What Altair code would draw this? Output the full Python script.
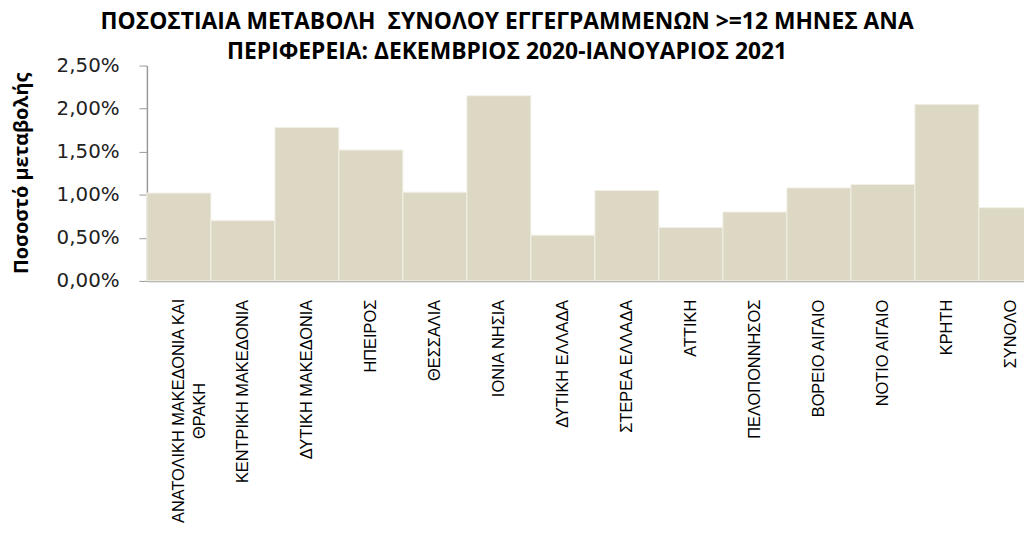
import altair as alt
import pandas as pd

regions = [
    "ΑΝΑΤΟΛΙΚΗ ΜΑΚΕΔΟΝΙΑ ΚΑΙ ΘΡΑΚΗ", "ΚΕΝΤΡΙΚΗ ΜΑΚΕΔΟΝΙΑ", "ΔΥΤΙΚΗ ΜΑΚΕΔΟΝΙΑ",
    "ΗΠΕΙΡΟΣ", "ΘΕΣΣΑΛΙΑ", "ΙΟΝΙΑ ΝΗΣΙΑ", "ΔΥΤΙΚΗ ΕΛΛΑΔΑ", "ΣΤΕΡΕΑ ΕΛΛΑΔΑ",
    "ΑΤΤΙΚΗ", "ΠΕΛΟΠΟΝΝΗΣΟΣ", "ΒΟΡΕΙΟ ΑΙΓΑΙΟ", "ΝΟΤΙΟ ΑΙΓΑΙΟ", "ΚΡΗΤΗ", "ΣΥΝΟΛΟ",
]
# wrapped category labels as shown under the axis
region_labels = [
    "ΑΝΑΤΟΛΙΚΗ ΜΑΚΕΔΟΝΙΑ ΚΑΙ\nΘΡΑΚΗ", "ΚΕΝΤΡΙΚΗ ΜΑΚΕΔΟΝΙΑ", "ΔΥΤΙΚΗ ΜΑΚΕΔΟΝΙΑ",
    "ΗΠΕΙΡΟΣ", "ΘΕΣΣΑΛΙΑ", "ΙΟΝΙΑ ΝΗΣΙΑ", "ΔΥΤΙΚΗ ΕΛΛΑΔΑ", "ΣΤΕΡΕΑ ΕΛΛΑΔΑ",
    "ΑΤΤΙΚΗ", "ΠΕΛΟΠΟΝΝΗΣΟΣ", "ΒΟΡΕΙΟ ΑΙΓΑΙΟ", "ΝΟΤΙΟ ΑΙΓΑΙΟ", "ΚΡΗΤΗ", "ΣΥΝΟΛΟ",
]
change = [0.0102, 0.0070, 0.0178, 0.0152, 0.0103, 0.0215, 0.0053, 0.0105,
          0.0062, 0.0080, 0.0108, 0.0112, 0.0205, 0.0085]
y_ticks = [0.0, 0.005, 0.01, 0.015, 0.02, 0.025]

df = pd.DataFrame({"region": regions, "label": region_labels, "value": change})
df["wrapped"] = df["label"].str.contains("\n")

x_enc = alt.X(
    "region:N", sort=regions, title=None,
    scale=alt.Scale(range=[0, 903], paddingInner=0, paddingOuter=0),
    axis=alt.Axis(labels=False, ticks=False, domainColor="#9A9A9A", domainWidth=1.5),
)

bars = alt.Chart(df).mark_bar(
    color="#DDD8C3", stroke="#F2F0E8", strokeWidth=1
).encode(
    x=x_enc,
    y=alt.Y(
        "value:Q",
        scale=alt.Scale(domain=[0, 0.025], nice=False),
        axis=alt.Axis(
            values=y_ticks, grid=False,
            labelExpr="replace(format(datum.value, '.2%'), '.', ',')",
            labelFont="DejaVu Sans", labelFontSize=20, labelColor="#222222",
            labelPadding=20, tickSize=8, tickColor="#9A9A9A",
            domainColor="#9A9A9A", domainWidth=1.5,
            title="Ποσοστό μεταβολής", titleFont="Open Sans", titleFontSize=20,
            titleFontWeight="bold", titleColor="#000000", titleAngle=270,
            titleX=-126, titleY=108, titleAlign="center", titleBaseline="middle",
        ),
    ),
)

text_style = dict(angle=270, baseline="middle", font="Liberation Sans",
                  fontSize=16.5, color="#000000", lineBreak="\n", lineHeight=21)

labels_single = alt.Chart(df).transform_filter("!datum.wrapped").mark_text(
    align="right", **text_style
).encode(x=alt.X("region:N", sort=regions), y=alt.value(236), text="label:N")

labels_wrapped = alt.Chart(df).transform_filter("datum.wrapped").mark_text(
    align="center", **text_style
).encode(x=alt.X("region:N", sort=regions), y=alt.value(348), text="label:N")

chart = alt.layer(bars, labels_single, labels_wrapped).properties(
    width=884,
    height=217,
    title=alt.TitleParams(
        text=["ΠΟΣΟΣΤΙΑΙΑ ΜΕΤΑΒΟΛΗ\u00a0 ΣΥΝΟΛΟΥ ΕΓΓΕΓΡΑΜΜΕΝΩΝ >=12 ΜΗΝΕΣ ΑΝΑ",
              "ΠΕΡΙΦΕΡΕΙΑ: ΔΕΚΕΜΒΡΙΟΣ 2020-ΙΑΝΟΥΑΡΙΟΣ 2021"],
        font="Open Sans", fontSize=23, fontWeight="bold", color="#000000",
        anchor="middle", dx=-79, dy=33, offset=7, lineHeight=30, baseline="alphabetic",
    ),
    autosize=alt.AutoSizeParams(type="none"),
    padding={"left": 140, "top": 56, "right": 0, "bottom": 247},
).configure_view(stroke=None)

chart.save("out.html", embed_options={"renderer": "svg", "actions": False})
